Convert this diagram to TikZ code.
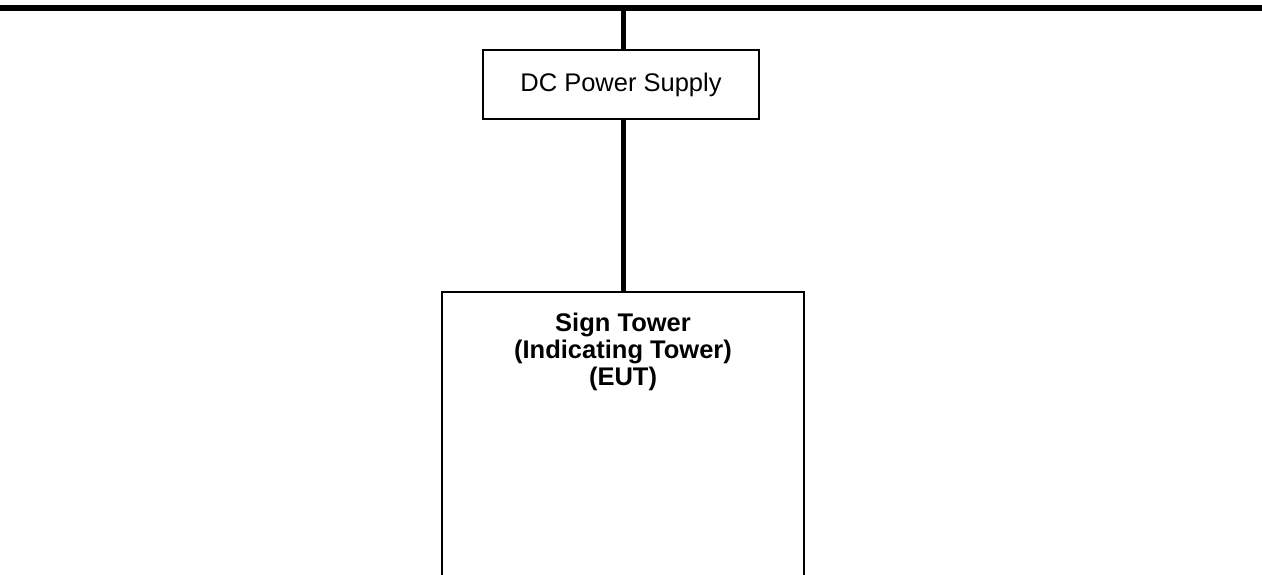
\documentclass[tikz,border=0pt]{standalone}
\usepackage{fontspec}
\setmainfont{Liberation Sans}
\begin{document}
\begin{tikzpicture}[x=1pt,y=1pt,
  busline/.style={line width=6pt},
  wire/.style={line width=5pt},
  unitbox/.style={draw, line width=1.6pt, rectangle, inner sep=0pt},
  labeltext/.style={font=\fontsize{25.5}{27}\selectfont, align=center, inner sep=0pt}]
\useasboundingbox (0,0) rectangle (1262,-574);
\coordinate (busL) at (0,-8);
\coordinate (busR) at (1262,-8);
\coordinate (busT) at (623,-8);
\draw[busline] (busL) -- (busR);
\node[unitbox, minimum width=276pt, minimum height=69pt, labeltext] (dc) at (621,-84.5) {DC Power Supply};
\node[unitbox, minimum width=362pt, minimum height=340pt, anchor=north] (tower) at (623,-291) {};
\node[labeltext, font=\bfseries\fontsize{25.5}{27}\selectfont, anchor=north] (towertext) at (623,-313) {Sign Tower\\(Indicating Tower)\\(EUT)};
\draw[wire] (busT) -- (busT |- dc.north);
\draw[wire] (busT |- dc.south) -- (busT |- tower.north);
\end{tikzpicture}
\end{document}
